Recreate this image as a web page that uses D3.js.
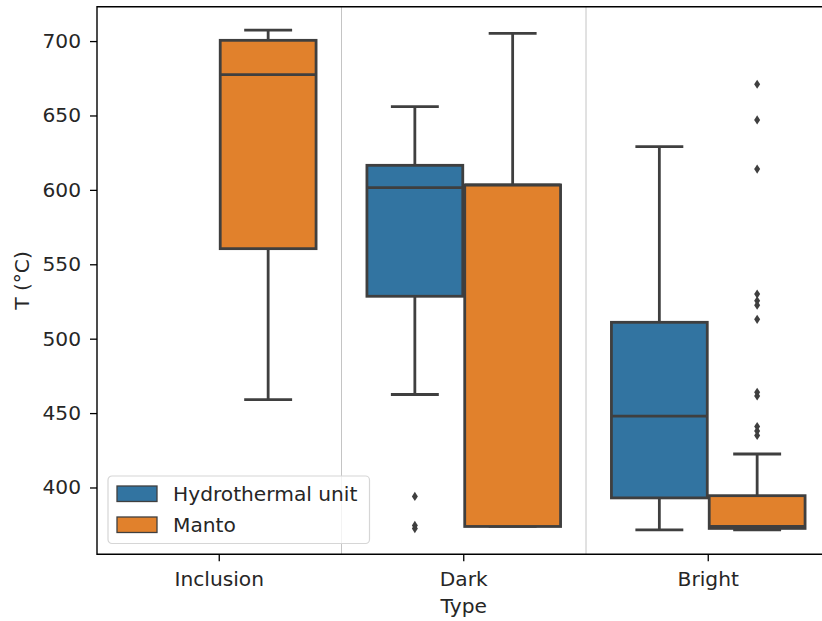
<!DOCTYPE html>
<html>
<head>
<meta charset="utf-8">
<script src="https://cdn.jsdelivr.net/npm/d3@7"></script>
<style>
  html, body { margin: 0; padding: 0; background: #fff; }
  svg { display: block; font-family: "DejaVu Sans", sans-serif; }
</style>
</head>
<body>
<svg id="chart" width="822" height="621"></svg>
<script>
// Temperature distributions by sample type, split by geological unit
const categories = ["Inclusion", "Dark", "Bright"];
const hues = ["Hydrothermal unit", "Manto"];
const hueColors = ["#3274a1", "#e1812c"];
const yTicks = [400, 450, 500, 550, 600, 650, 700];

// Box statistics per hue, one entry per category (null = no data)
const hydroLow     = [null, 462.5, 371.5];
const hydroQ1      = [null, 528.5, 393.0];
const hydroMedian  = [null, 601.5, 448.0];
const hydroQ3      = [null, 616.5, 511.0];
const hydroHigh    = [null, 656.0, 629.0];
const hydroOutliers = [[], [394.0, 374.5, 372.4], []];

const mantoLow     = [459.0, 373.8, 371.5];
const mantoQ1      = [560.5, 373.8, 372.5];
const mantoMedian  = [677.5, 603.3, 373.8];
const mantoQ3      = [700.5, 603.3, 394.5];
const mantoHigh    = [707.3, 705.2, 422.5];
const mantoOutliers = [[], [], [671, 647, 614, 530, 525.5, 522.5, 513, 464, 461.5, 441, 438, 435]];

const svg = d3.select("#chart");
const margin = { left: 97, top: 6.7, bottom: 554.3 };
const plotRight = 830.5;

const x = d3.scaleBand().domain(categories).range([margin.left, plotRight]).padding(0);
const inner = d3.scaleBand().domain(hues)
  .range([x.bandwidth() * 0.1, x.bandwidth() * 0.9]).padding(0);
const y = d3.scaleLinear().domain([355.1, 723.1]).range([margin.bottom, margin.top]);

const lineColor = "#3f3f3f";
const boxW = inner.bandwidth() * 0.98;
const capW = boxW / 2;

// Band separators
const seps = svg.append("g");
categories.slice(1).forEach(c => {
  seps.append("line")
    .attr("x1", x(c)).attr("x2", x(c))
    .attr("y1", margin.top).attr("y2", margin.bottom)
    .attr("stroke", "#c4c4c4").attr("stroke-width", 1);
});

const series = [
  { hue: hues[0], color: hueColors[0], low: hydroLow, q1: hydroQ1, med: hydroMedian, q3: hydroQ3, high: hydroHigh, out: hydroOutliers },
  { hue: hues[1], color: hueColors[1], low: mantoLow, q1: mantoQ1, med: mantoMedian, q3: mantoQ3, high: mantoHigh, out: mantoOutliers }
];

const boxes = svg.append("g");
series.forEach(s => {
  categories.forEach((c, i) => {
    if (s.q1[i] == null) return;
    const cx = x(c) + inner(s.hue) + inner.bandwidth() / 2;
    const g = boxes.append("g");
    // whiskers
    g.append("line").attr("x1", cx).attr("x2", cx)
      .attr("y1", y(s.q3[i])).attr("y2", y(s.high[i]))
      .attr("stroke", lineColor).attr("stroke-width", 2.8);
    g.append("line").attr("x1", cx).attr("x2", cx)
      .attr("y1", y(s.q1[i])).attr("y2", y(s.low[i]))
      .attr("stroke", lineColor).attr("stroke-width", 2.8);
    // caps
    [s.high[i], s.low[i]].forEach(v => {
      g.append("line").attr("x1", cx - capW / 2).attr("x2", cx + capW / 2)
        .attr("y1", y(v)).attr("y2", y(v))
        .attr("stroke", lineColor).attr("stroke-width", 2.8);
    });
    // box
    g.append("rect")
      .attr("x", cx - boxW / 2).attr("width", boxW)
      .attr("y", y(s.q3[i])).attr("height", Math.max(0.5, y(s.q1[i]) - y(s.q3[i])))
      .attr("fill", s.color).attr("stroke", lineColor).attr("stroke-width", 2.8);
    // median
    g.append("line").attr("x1", cx - boxW / 2).attr("x2", cx + boxW / 2)
      .attr("y1", y(s.med[i])).attr("y2", y(s.med[i]))
      .attr("stroke", lineColor).attr("stroke-width", 2.8);
    // outliers (thin diamonds)
    s.out[i].forEach(v => {
      const py = y(v);
      g.append("path")
        .attr("d", `M${cx},${py - 4.6} L${cx + 3},${py} L${cx},${py + 4.6} L${cx - 3},${py} Z`)
        .attr("fill", lineColor);
    });
  });
});

// Axes
const axisColor = "#000";
const textColor = "#262626";
const fontSize = 20.2;

const yAxis = svg.append("g").attr("transform", `translate(${margin.left},0)`)
  .call(d3.axisLeft(y).tickValues(yTicks).tickSize(7).tickPadding(9).tickSizeOuter(0));
const xAxis = svg.append("g").attr("transform", `translate(0,${margin.bottom})`)
  .call(d3.axisBottom(x).tickSize(7).tickPadding(10).tickSizeOuter(0));
[xAxis, yAxis].forEach(a => {
  a.select(".domain").remove();
  a.selectAll(".tick line").attr("stroke", axisColor).attr("stroke-width", 1.3);
  a.selectAll(".tick text").attr("fill", textColor)
    .style("font-size", fontSize + "px").style("font-family", "DejaVu Sans");
});

// Spines
const spines = svg.append("g").attr("stroke", axisColor).attr("stroke-width", 1.4).attr("fill", "none");
spines.append("path").attr("d",
  `M${plotRight + 5},${margin.top} H${margin.left} V${margin.bottom} H${plotRight + 5}`);

// Axis labels
svg.append("text")
  .attr("x", (margin.left + plotRight) / 2).attr("y", 613)
  .attr("text-anchor", "middle").attr("fill", textColor)
  .style("font-size", fontSize + "px").text("Type");
svg.append("text")
  .attr("transform", `translate(29,${(margin.top + margin.bottom) / 2}) rotate(-90)`)
  .attr("text-anchor", "middle").attr("fill", textColor)
  .style("font-size", fontSize + "px").text("T (°C)");

// Legend
const legend = svg.append("g").attr("transform", "translate(108,476)");
legend.append("rect")
  .attr("width", 261.5).attr("height", 67.5).attr("rx", 4)
  .attr("fill", "#fff").attr("fill-opacity", 0.8)
  .attr("stroke", "#d6d6d6").attr("stroke-width", 1.2);
hues.forEach((h, i) => {
  const row = legend.append("g").attr("transform", `translate(9,${10 + i * 31})`);
  row.append("rect").attr("width", 40).attr("height", 15.5)
    .attr("fill", hueColors[i]).attr("stroke", lineColor).attr("stroke-width", 1.3);
  row.append("text").attr("x", 56).attr("y", 15)
    .attr("fill", textColor).style("font-size", fontSize + "px").text(h);
});
</script>
</body>
</html>
